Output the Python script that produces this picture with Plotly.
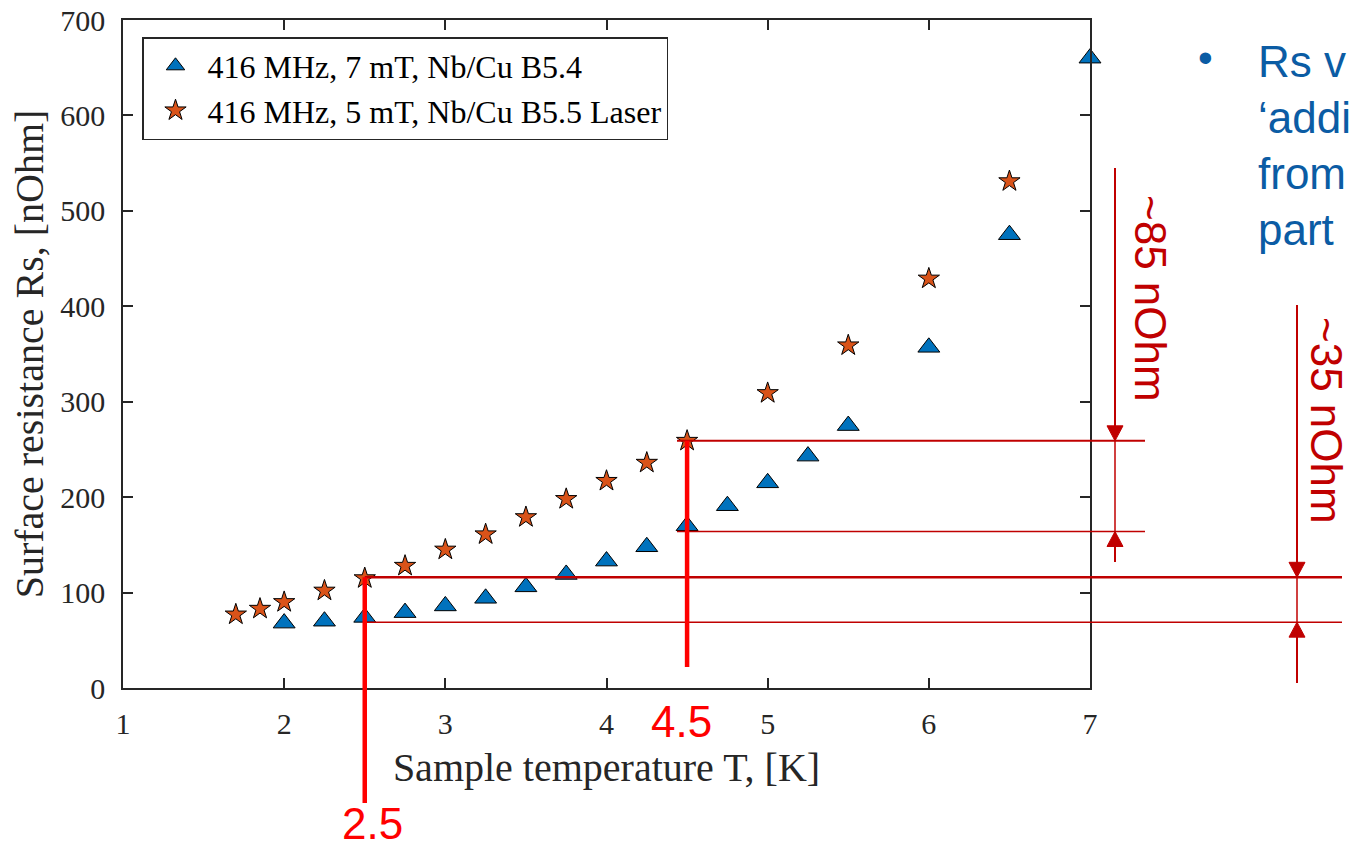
import plotly.graph_objects as go

# ---- data ----
tri_T = [2.0, 2.25, 2.5, 2.75, 3.0, 3.25, 3.5, 3.75, 4.0, 4.25, 4.5, 4.75, 5.0, 5.25, 5.5, 6.0, 6.5, 7.0]
tri_Rs = [68, 70, 74, 79, 86, 94, 106, 119, 133, 148, 170, 191, 215, 243, 275, 357, 475, 660]
star_T = [1.7, 1.85, 2.0, 2.25, 2.5, 2.75, 3.0, 3.25, 3.5, 3.75, 4.0, 4.25, 4.5, 5.0, 5.5, 6.0, 6.5]
star_Rs = [77, 83, 90, 102, 115, 128, 145, 161, 179, 198, 217, 236, 259, 309, 359, 429, 531]
series_names = ["416 MHz, 7 mT, Nb/Cu B5.4", "416 MHz, 5 mT, Nb/Cu B5.5 Laser"]
x_ticks = [1, 2, 3, 4, 5, 6, 7]
y_ticks = [0, 100, 200, 300, 400, 500, 600, 700]
# hand-drawn annotation levels (nOhm) and temperatures (K)
mark_T = [2.5, 4.5]
levels_45 = [259, 164]   # star / triangle at 4.5 K
levels_25 = [116, 69]    # star / triangle at 2.5 K
side_text = ["Rs v", "\u2018addi", "from", "part"]

X_RANGE = [1, 7]
Y_RANGE = [0, 700]

W, H = 1351, 850
L, R, T, B = 123, 261, 20, 162
PW, PH = W - L - R, H - T - B

def px(xp):  # pixel -> paper x
    return (xp - L) / PW

def py(yp):  # pixel -> paper y
    return (H - B - yp) / PH

def dx(v):
    return (v - X_RANGE[0]) / (X_RANGE[1] - X_RANGE[0])

def dy(v):
    return (v - Y_RANGE[0]) / (Y_RANGE[1] - Y_RANGE[0])

SERIF = "Liberation Serif, Times New Roman, serif"
SANS = "Liberation Sans, Arial, sans-serif"
AX = "#262626"
DARKRED = "#C00000"
RED = "#FF0000"
BLUE = "#0B5CA4"

fig = go.Figure()
fig.add_trace(go.Scatter(
    x=tri_T, y=tri_Rs, mode="markers", name=series_names[0],
    marker=dict(symbol="triangle-up", size=19, color="#0072BD",
                line=dict(color="#000000", width=1)),
    cliponaxis=False))
fig.add_trace(go.Scatter(
    x=star_T, y=star_Rs, mode="markers", name=series_names[1],
    marker=dict(symbol="star", size=16, color="#D95319",
                line=dict(color="#000000", width=1)),
    cliponaxis=False))

shapes = []

def line(x0, y0, x1, y1, color, width):
    shapes.append(dict(type="line", xref="paper", yref="paper", x0=x0, y0=y0, x1=x1, y1=y1,
                       line=dict(color=color, width=width), layer="above"))

def head(xc, ytip, down, color):
    hw = 8 / PW
    hh = 15 / PH
    yb = ytip + hh if down else ytip - hh
    path = f"M {xc - hw} {yb} L {xc + hw} {yb} L {xc} {ytip} Z"
    shapes.append(dict(type="path", xref="paper", yref="paper", path=path,
                       fillcolor=color, line=dict(color=color, width=1), layer="above"))

# horizontal level lines at 4.5 K
line(px(677), dy(levels_45[0]), px(1145), dy(levels_45[0]), DARKRED, 2)
line(px(677), dy(levels_45[1]), px(1145), dy(levels_45[1]), DARKRED, 1.5)
# horizontal level lines at 2.5 K
line(dx(mark_T[0]), dy(levels_25[0]), px(1342), dy(levels_25[0]), DARKRED, 2.5)
line(dx(mark_T[0]), dy(levels_25[1]), px(1342), dy(levels_25[1]), DARKRED, 1.5)
# thick vertical markers
line(dx(mark_T[0]), dy(levels_25[0]), dx(mark_T[0]), py(803), RED, 4.5)
line(dx(mark_T[1]), dy(levels_45[0]), dx(mark_T[1]), py(667), RED, 4.5)

# ~85 arrow
xa = px(1115)
line(xa, py(168), xa, dy(levels_45[0]), DARKRED, 2)
head(xa, dy(levels_45[0]), True, DARKRED)
line(xa, dy(levels_45[0]), xa, dy(levels_45[1]), DARKRED, 1.5)
line(xa, py(562), xa, dy(levels_45[1]), DARKRED, 2)
head(xa, dy(levels_45[1]), False, DARKRED)
# ~35 arrow
xb = px(1297)
line(xb, py(305), xb, dy(levels_25[0]), DARKRED, 2)
head(xb, dy(levels_25[0]), True, DARKRED)
line(xb, dy(levels_25[0]), xb, dy(levels_25[1]), DARKRED, 1.5)
line(xb, py(683), xb, dy(levels_25[1]), DARKRED, 2)
head(xb, dy(levels_25[1]), False, DARKRED)

annotations = [
    dict(text="~85 nOhm", x=px(1151), y=py(298), textangle=90, font=dict(family=SANS, size=44, color=DARKRED)),
    dict(text="~35 nOhm", x=px(1327), y=py(420), textangle=90, font=dict(family=SANS, size=44, color=DARKRED)),
    dict(text="4.5", x=dx(mark_T[1]) - 6 / PW, y=py(721), font=dict(family=SANS, size=44, color=RED)),
    dict(text="2.5", x=dx(mark_T[0]) + 8 / PW, y=py(823), font=dict(family=SANS, size=44, color=RED)),
    dict(text="\u2022", x=px(1205), y=py(58), font=dict(family=SANS, size=42, color=BLUE)),
]
for i, t in enumerate(side_text):
    annotations.append(dict(text=t, x=px(1256), y=py(61 + 56 * i), xanchor="left",
                            font=dict(family=SANS, size=44, color=BLUE)))
for a in annotations:
    a.update(xref="paper", yref="paper", showarrow=False)
    a.setdefault("xanchor", "center")
    a.setdefault("yanchor", "middle")

axis_common = dict(showline=True, linecolor=AX, linewidth=1.5, mirror="ticks",
                   ticks="inside", ticklen=10, tickwidth=1.5, tickcolor=AX,
                   showgrid=False, zeroline=False, automargin=False,
                   tickfont=dict(family=SERIF, size=30, color=AX))

fig.update_layout(
    template="none",
    width=W, height=H,
    margin=dict(l=L, r=R, t=T, b=B, autoexpand=False),
    paper_bgcolor="white", plot_bgcolor="white",
    xaxis=dict(range=X_RANGE, tickvals=x_ticks, ticklabelstandoff=8,
               title=dict(text="Sample temperature T, [K]", font=dict(family=SERIF, size=40, color=AX), standoff=14),
               **axis_common),
    yaxis=dict(range=Y_RANGE, tickvals=y_ticks, ticklabelstandoff=10,
               title=dict(text="Surface resistance Rs, [nOhm]", font=dict(family=SERIF, size=40, color=AX), standoff=4),
               **axis_common),
    legend=dict(x=px(142), y=py(37), xanchor="left", yanchor="top",
                bordercolor=AX, borderwidth=1.5, bgcolor="white",
                font=dict(family=SERIF, size=32, color="#000000"),
                itemwidth=54, tracegroupgap=0),
    showlegend=True,
    shapes=shapes,
    annotations=annotations,
)

fig.write_html("out.html", config={"displayModeBar": False},
               post_script="document.body.style.margin='0';document.body.style.overflow='hidden';")
